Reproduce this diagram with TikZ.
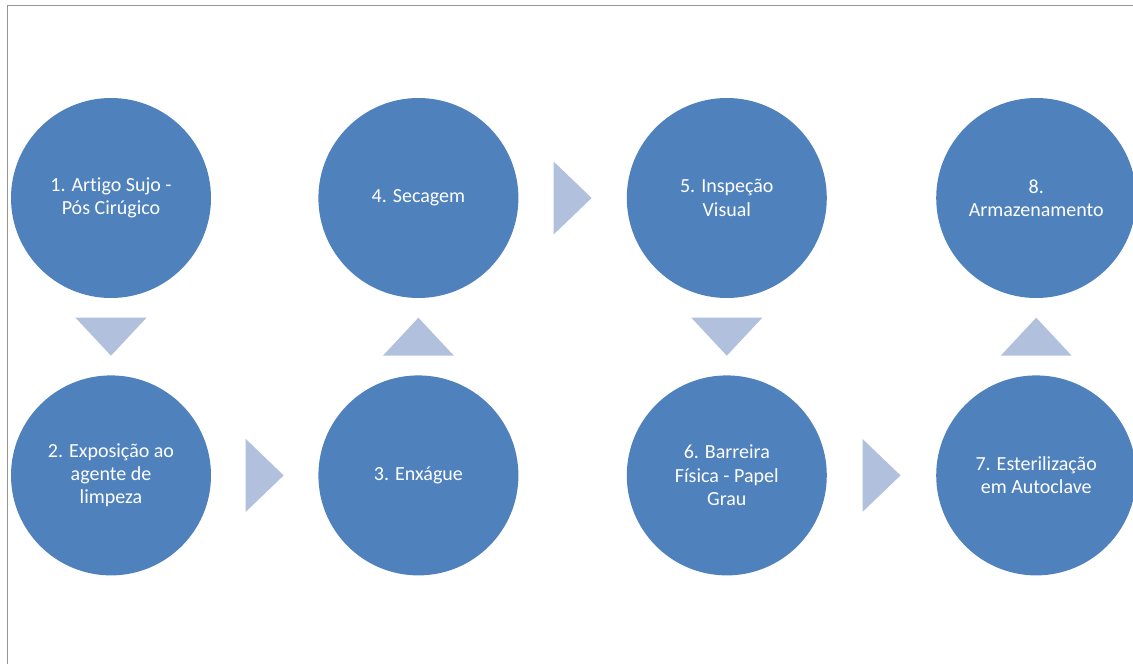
\documentclass[tikz,border=0pt]{standalone}
\usepackage{fontspec}
\setmainfont[Ligatures=NoCommon]{Carlito}
\usepackage{xcolor}
\usepackage{tikz}
\usetikzlibrary{calc, positioning}

\definecolor{etapaazul}{RGB}{79,129,189}
\definecolor{setaazul}{RGB}{177,193,221}

\begin{document}
\begin{tikzpicture}[x=1pt, y=-1pt,
    etapa/.style={circle, fill=etapaazul, minimum size=200pt, inner sep=0pt,
        text=white, align=center, font=\fontsize{20}{23.3}\selectfont},
    seta/.style={fill=setaazul}]
    \useasboundingbox (0,0) rectangle (1133,664);
    % 1. Moldura
    \draw[black!42, line width=1.8pt] (7.5,664) -- (7.5,5.5) -- (1133,5.5);

    % 2. Etapas do processo
    \node[etapa] (sujo) at (111,198) {1. Artigo Sujo -\\Pós Cirúgico};
    \node[etapa, below=77pt of sujo] (expo) {2. Exposição ao\\agente de\\limpeza};
    \node[etapa, right=107pt of expo] (enx) {3. Enxágue};
    \node[etapa, above=77pt of enx] (sec) {4. Secagem};
    \node[etapa, right=108pt of sec] (insp) {5. Inspeção\\Visual};
    \node[etapa, below=77pt of insp] (barr) {6. Barreira\\Física - Papel\\Grau};
    \node[etapa, right=109pt of barr] (ester) {7. Esterilização\\em Autoclave};
    \node[etapa, above=77pt of ester] (armaz) {8.\\Armazenamento};

    % 3. Setas entre as etapas
    \coordinate (m12) at ($(sujo)!0.5!(expo)$);
    \coordinate (m23) at ($(expo)!0.5!(enx)$);
    \coordinate (m34) at ($(enx)!0.5!(sec)$);
    \coordinate (m45) at ($(sec)!0.5!(insp)$);
    \coordinate (m56) at ($(insp)!0.5!(barr)$);
    \coordinate (m67) at ($(barr)!0.5!(ester)$);
    \coordinate (m78) at ($(ester)!0.5!(armaz)$);
    \fill[seta] ($(m12)+(-35.5,-19)$) -- ($(m12)+(35.5,-19)$) -- ($(m12)+(0,19)$) -- cycle;
    \fill[seta] ($(m23)+(-19,-36.5)$) -- ($(m23)+(19,0)$) -- ($(m23)+(-19,36.5)$) -- cycle;
    \fill[seta] ($(m34)+(-35.5,19)$) -- ($(m34)+(35.5,19)$) -- ($(m34)+(0,-19)$) -- cycle;
    \fill[seta] ($(m45)+(-19,-36.5)$) -- ($(m45)+(19,0)$) -- ($(m45)+(-19,36.5)$) -- cycle;
    \fill[seta] ($(m56)+(-35.5,-19)$) -- ($(m56)+(35.5,-19)$) -- ($(m56)+(0,19)$) -- cycle;
    \fill[seta] ($(m67)+(-19,-36.5)$) -- ($(m67)+(19,0)$) -- ($(m67)+(-19,36.5)$) -- cycle;
    \fill[seta] ($(m78)+(-35.5,19)$) -- ($(m78)+(35.5,19)$) -- ($(m78)+(0,-19)$) -- cycle;
\end{tikzpicture}
\end{document}
